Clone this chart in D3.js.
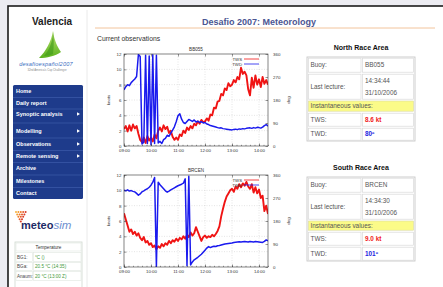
<!DOCTYPE html>
<html><head><meta charset="utf-8">
<script src="https://cdn.jsdelivr.net/npm/d3@7"></script>
<style>html,body{margin:0;padding:0;background:#ececf2;overflow:hidden}svg{display:block;font-family:"Liberation Sans",Arial,sans-serif}</style>
</head><body><svg id="c" width="443" height="287"></svg>
<script>
// ---------------- data ----------------
const sampleMinutes = [0,4,8,12,16,20,24,28,32,36,40,44,48,52,56,60,64,68,72,76,80,84,88,92,96,100,104,108,112,116,120,124,128,132,136,140,144,148,152,156,160,164,168,172,176,180,184,188,192,196,200,204,208,212,216,220,224,228,232,236,240,244,248,252,256,260,264,268,272,276,280,284,288,292,296,300,304,308,312,316,320];
const hourTickMinutes = [0,60,120,180,240,300];
const hourTickLabels = ["09:00","10:00","11:00","12:00","13:00","14:00"];
const knotTicks = [0,2,4,6,8,10,12];
const degTicks = [0,90,180,270,360];

const northTws = [2.2,2.6,1.9,2.7,2.0,2.8,2.3,2.6, 1.6,0.8,0.5,1.1,0.4,1.3,0.7, 1.1,0.6,1.5,1.0,2.0,2.4,1.9,2.7, 2.2,2.5,1.7,2.0,1.2,0.8,1.1, 0.8,1.5,1.3,2.0,1.7,2.4,2.1,2.6, 2.3,2.9,2.7,3.2,2.9,3.4,3.1, 3.2,3.6,3.3,4.1,4.0,5.0,4.9,5.8, 5.9,6.8,6.6,7.5,7.3,8.2,7.8, 8.0,8.6,8.3,9.0,8.7,10.2,9.4,9.7, 9.2,7.4,6.6,8.9,7.6,9.2,8.0, 8.7,7.7,9.0,8.1,8.6,8.0];
const northTwd = [220,232,240,236,248,255,262,272, 358,350,8,15,355,10,352,5,357,10,355,12, 18,10,25,30,42,38,50,62,75,95, 118,126,105,92,88,96,104,100,96,102,94,97,92,95,90, 92,86,84,80,78,76,74,72,70,71,68,67,66,65,64, 63,65,66,64,67,66,68,67,69,70,71,69,72,70,73, 72,70,74,80,84,78];
const southTws = [7.0,6.2,5.4,4.6,4.9,4.3,4.6,4.1, 4.4,3.8,3.5,3.9,3.2,3.4,2.9, 3.1,2.6,2.8,2.3,2.7,2.5,3.0,2.7, 3.1,2.9,3.4,3.1,3.5,3.3,3.7, 3.4,3.8,3.6,4.0,3.7,4.2,3.9,4.5, 4.1,4.4,5.2,4.6,4.0,3.4,3.9, 4.1,3.8,4.0,3.9,4.2,4.0,4.3,4.7, 5.3,6.6,7.6,8.5,9.2,9.6,10.0, 10.2,9.8,10.5,10.2,10.8,10.4,10.9,10.6, 11.1,10.5,10.2,10.8,9.7,10.4,9.6, 10.1,9.0,9.3,7.3,8.0,6.9];
const southTwd = [300,298,302,297,299,296,294,288, 281,286,294,298,303,306,312, 320,332,350,2,332, 322,314,306,298,293,297,302,306,310,314, 318,321,324,328,345,5,355,8, 20,28,33,38,44,50,58, 66,74,80,76,79,81,80,83, 84,86,88,90,91,92,93, 94,96,97,98,99,98,99,100, 99,98,100,99,98,100,99, 98,97,96,100,106,102];

const menuItems = ["Home","Daily report","Synoptic analysis","Modelling","Observations","Remote sensing","Archive","Milestones","Contact"];
const menuArrows = [false,false,true,true,true,true,false,false,false];
const tempLabels = ["BG1:","BGa:","Anaum:"];
const tempValues = ["°C ()","20.5 °C (14:35)","20 °C (13:00 Z)"];
const northInfo = {title:"North Race Area", buoy:"BB055", time:"14:34:44", date:"31/10/2006", tws:"8.6 kt", twd:"80º"};
const southInfo = {title:"South Race Area", buoy:"BRCEN", time:"14:34:30", date:"31/10/2006", tws:"9.0 kt", twd:"101º"};

// ---------------- page ----------------
const svg = d3.select("#c");
svg.append("rect").attr("width",443).attr("height",287).attr("fill","#ececf2");
svg.append("rect").attr("x",8).attr("y",6).attr("width",450).attr("height",300).attr("fill","#fff")
  .attr("stroke","#1b1b1b").attr("stroke-width",1.6);
svg.append("line").attr("x1",87).attr("x2",87).attr("y1",10).attr("y2",287).attr("stroke","#e4e4e4").attr("stroke-width",0.8);

svg.append("text").attr("x",32).attr("y",25).attr("font-size",10).attr("font-weight","bold").attr("fill","#222").text("Valencia");
svg.append("line").attr("x1",95).attr("x2",435).attr("y1",28).attr("y2",28).attr("stroke","#f2c49c").attr("stroke-width",1);
svg.append("text").attr("x",259).attr("y",24.5).attr("text-anchor","middle").attr("font-size",9).attr("font-weight","bold").attr("fill","#4b5592").text("Desafio 2007: Meteorology");
svg.append("text").attr("x",97).attr("y",40.5).attr("font-size",6.8).attr("fill","#333").text("Current observations");

// desafio logo
const dg = svg.append("defs").append("linearGradient").attr("id","sail").attr("x1",0).attr("y1",0).attr("x2",0).attr("y2",1);
dg.append("stop").attr("offset",0).attr("stop-color","#b8e070");
dg.append("stop").attr("offset",1).attr("stop-color","#5cb21e");
svg.append("path").attr("d","M53,31 C54,40 58,48 61,52 C55,56 47,58 39,58 C46,51 51,42 53,31 Z").attr("fill","url(#sail)");
svg.append("path").attr("d","M53,31 C53,40 50,49 44,56 C48,56 51,55 53,54 C54,46 54,38 53,31 Z").attr("fill","#3e9a18").attr("opacity",0.6);
svg.append("text").attr("x",46).attr("y",66).attr("text-anchor","middle").attr("font-size",5.6).attr("font-style","italic").attr("fill","#3d6fbf").attr("letter-spacing",0.2).text("desafioespañol2007");
svg.append("text").attr("x",47).attr("y",71).attr("text-anchor","middle").attr("font-size",2.8).attr("fill","#8a8a8a").text("32nd America's Cup Challenger");

// nav menu
const navTop = 85, navBot = 199;
svg.append("rect").attr("x",13).attr("y",navTop).attr("width",70).attr("height",navBot-navTop).attr("rx",1.5).attr("fill","#1e3b8b");
const menuY = [91,103,114,131,144,156,168,181,193];
menuItems.forEach((m,i)=>{
  if(i>0){
    const ly = (menuY[i]+menuY[i-1])/2+0.5;
    svg.append("line").attr("x1",13).attr("x2",83).attr("y1",ly).attr("y2",ly).attr("stroke","#4262b0").attr("stroke-width",0.6);
  }
  svg.append("text").attr("x",16).attr("y",menuY[i]+2).attr("font-size",5.5).attr("font-weight","bold").attr("fill","#fff").text(m);
  if(menuArrows[i]) svg.append("path").attr("d",`M77,${menuY[i]-1.8} L80,${menuY[i]} L77,${menuY[i]+1.8} Z`).attr("fill","#fff");
});

// meteosim logo
const dotCols = ["#f7b23a","#f39a2e","#ee7a2a","#e55a28","#d93a26"];
for(let r=0;r<5;r++){ for(let c=0;c<5-r;c++){
  svg.append("circle").attr("cx",16+c*2.4+r*1.2).attr("cy",212+r*2.4).attr("r",1).attr("fill",dotCols[(r+c)%5]);
}}
svg.append("text").attr("x",21).attr("y",229).attr("font-size",11).attr("font-weight","bold").attr("fill","#1d2a66").text("meteo")
  .append("tspan").attr("font-weight","normal").attr("font-style","italic").attr("fill","#6e8fcf").attr("font-size",11.5).text("sim");

// temperature table
const tL=15,tM=33,tR=82, tRows=[242,252,262,271,281,291];
svg.append("rect").attr("x",tL).attr("y",tRows[0]).attr("width",tR-tL).attr("height",60).attr("fill","#fff").attr("stroke","#cfd8cf").attr("stroke-width",0.8);
svg.append("rect").attr("x",tL+1).attr("y",tRows[0]+1).attr("width",tR-tL-2).attr("height",tRows[1]-tRows[0]-2).attr("fill","none").attr("stroke","#dfe6df").attr("stroke-width",0.6);
svg.append("text").attr("x",(tL+tR)/2).attr("y",tRows[0]+6.5).attr("text-anchor","middle").attr("font-size",4.6).attr("fill","#333").text("Temperature");
tempLabels.forEach((l,i)=>{
  const y0=tRows[i+1], y1=tRows[i+2];
  svg.append("rect").attr("x",tL+1).attr("y",y0+0.5).attr("width",tM-tL-1.5).attr("height",y1-y0-1).attr("fill","none").attr("stroke","#dfe6df").attr("stroke-width",0.6);
  svg.append("rect").attr("x",tM+0.5).attr("y",y0+0.5).attr("width",tR-tM-1.5).attr("height",y1-y0-1).attr("fill","none").attr("stroke","#dfe6df").attr("stroke-width",0.6);
  svg.append("text").attr("x",tL+2).attr("y",(y0+y1)/2+1.7).attr("font-size",4.6).attr("fill","#444").text(l);
  svg.append("text").attr("x",tM+2).attr("y",(y0+y1)/2+1.7).attr("font-size",4.6).attr("fill","#3f9a3a").text(tempValues[i]);
});

// info tables
function drawTable(info, titleY, rows){
  const L=307, M=362, R=415;
  svg.append("text").attr("x",361).attr("y",titleY).attr("text-anchor","middle").attr("font-size",7).attr("font-weight","bold").attr("fill","#111").text(info.title);
  svg.append("rect").attr("x",L).attr("y",rows[0]).attr("width",R-L).attr("height",rows[5]-rows[0]).attr("fill","#fff").attr("stroke","#c8c8c8").attr("stroke-width",0.9);
  [0,1,3,4].forEach(r=>{
    svg.append("rect").attr("x",L+1.5).attr("y",rows[r]+1.2).attr("width",M-L-2.5).attr("height",rows[r+1]-rows[r]-2).attr("fill","none").attr("stroke","#d9d9d9").attr("stroke-width",0.7);
    svg.append("rect").attr("x",M+0.5).attr("y",rows[r]+1.2).attr("width",R-M-2).attr("height",rows[r+1]-rows[r]-2).attr("fill","none").attr("stroke","#d9d9d9").attr("stroke-width",0.7);
  });
  svg.append("rect").attr("x",L+1.5).attr("y",rows[2]+1).attr("width",R-L-3).attr("height",rows[3]-rows[2]-1.8).attr("fill","#fbfb88").attr("stroke","#d9d9a0").attr("stroke-width",0.6);
  const fs=6.4, c="#555";
  const mid=(a,b)=>(rows[a]+rows[b])/2+2.2;
  svg.append("text").attr("x",L+3.5).attr("y",mid(0,1)).attr("font-size",fs).attr("fill",c).text("Buoy:");
  svg.append("text").attr("x",M+3).attr("y",mid(0,1)).attr("font-size",fs).attr("fill",c).text(info.buoy);
  svg.append("text").attr("x",L+3.5).attr("y",mid(1,2)).attr("font-size",fs).attr("fill",c).text("Last lecture:");
  svg.append("text").attr("x",M+3).attr("y",mid(1,2)-5.8).attr("font-size",fs).attr("fill",c).text(info.time);
  svg.append("text").attr("x",M+3).attr("y",mid(1,2)+5.8).attr("font-size",fs).attr("fill",c).text(info.date);
  svg.append("text").attr("x",L+3.5).attr("y",mid(2,3)).attr("font-size",fs).attr("fill","#555").text("Instantaneous values:");
  svg.append("text").attr("x",L+3.5).attr("y",mid(3,4)).attr("font-size",fs).attr("fill",c).text("TWS:");
  svg.append("text").attr("x",M+3).attr("y",mid(3,4)).attr("font-size",fs).attr("font-weight","bold").attr("fill","#f01818").text(info.tws);
  svg.append("text").attr("x",L+3.5).attr("y",mid(4,5)).attr("font-size",fs).attr("fill",c).text("TWD:");
  svg.append("text").attr("x",M+3).attr("y",mid(4,5)).attr("font-size",fs).attr("font-weight","bold").attr("fill","#2424e0").text(info.twd);
}
drawTable(northInfo, 49.5, [57,73,100,112,127,141]);
drawTable(southInfo, 169.5, [177,193,220,231,246,261]);

// ---------------- charts ----------------
let clipId = 0;
function drawChart(box, title, tws, twd){
  const x = d3.scaleLinear().domain([0,320]).range([box.x0, box.x1]);
  const yL = d3.scaleLinear().domain([0,12]).range([box.y1, box.y0]);
  const yR = d3.scaleLinear().domain([0,360]).range([box.y1, box.y0]);
  const g = svg.append("g");
  const id = "clip"+(clipId++);
  svg.select("defs").append("clipPath").attr("id",id).append("rect")
    .attr("x",box.x0).attr("y",box.y0).attr("width",box.x1-box.x0).attr("height",box.y1-box.y0);
  // grid
  g.append("g").selectAll("line").data(hourTickMinutes.slice(1)).join("line")
    .attr("x1",d=>x(d)).attr("x2",d=>x(d)).attr("y1",box.y0).attr("y2",box.y1)
    .attr("stroke","#c8c8c8").attr("stroke-width",0.5).attr("stroke-dasharray","1,1.5");
  g.append("g").selectAll("line").data(knotTicks.slice(1,-1)).join("line")
    .attr("x1",box.x0).attr("x2",box.x1).attr("y1",d=>yL(d)).attr("y2",d=>yL(d))
    .attr("stroke","#c8c8c8").attr("stroke-width",0.5).attr("stroke-dasharray","1,1.5");
  // lines
  const pts = (arr, sc) => arr.map((v,i)=>[x(sampleMinutes[i]), sc(v)]);
  const line = d3.line();
  const lg = g.append("g").attr("clip-path",`url(#${id})`);
  lg.append("path").attr("d", line(pts(tws,yL))).attr("fill","none").attr("stroke","#f01414").attr("stroke-width",1.9).attr("stroke-linejoin","round");
  lg.append("path").attr("d", line(pts(twd,yR))).attr("fill","none").attr("stroke","#1a1aee").attr("stroke-width",1.5).attr("stroke-linejoin","round");
  // legend
  const lx = box.x1-26, ly = box.y0+5;
  g.append("text").attr("x",lx).attr("y",ly+1.5).attr("text-anchor","end").attr("font-size",4.3).attr("fill","#333").text("TWS");
  g.append("line").attr("x1",lx+2).attr("x2",lx+17).attr("y1",ly).attr("y2",ly).attr("stroke","#f01414").attr("stroke-width",0.8);
  g.append("text").attr("x",lx).attr("y",ly+6.5).attr("text-anchor","end").attr("font-size",4.3).attr("fill","#333").text("TWD");
  g.append("line").attr("x1",lx+2).attr("x2",lx+17).attr("y1",ly+5).attr("y2",ly+5).attr("stroke","#1a1aee").attr("stroke-width",0.8);
  // axes
  const styleAxis = sel => { sel.select(".domain").remove(); sel.selectAll("line").attr("stroke","#333").attr("stroke-width",0.5); sel.selectAll("text").attr("font-size",4.4).attr("fill","#333").attr("font-family","Liberation Sans, Arial, sans-serif"); };
  g.append("g").attr("transform",`translate(0,${box.y1})`)
    .call(d3.axisBottom(x).tickValues(hourTickMinutes).tickFormat((d,i)=>hourTickLabels[i]).tickSizeInner(-2.5).tickSizeOuter(0).tickPadding(3)).call(styleAxis);
  g.append("g").attr("transform",`translate(0,${box.y1})`)
    .call(d3.axisBottom(x).tickValues(d3.range(0,321,10)).tickFormat("").tickSizeInner(-1.2).tickSizeOuter(0)).call(styleAxis);
  g.append("g").attr("transform",`translate(0,${box.y0})`)
    .call(d3.axisTop(x).tickValues(hourTickMinutes).tickFormat("").tickSizeInner(-2.5).tickSizeOuter(0)).call(styleAxis);
  g.append("g").attr("transform",`translate(${box.x0},0)`)
    .call(d3.axisLeft(yL).tickValues(knotTicks).tickSizeInner(-2.5).tickSizeOuter(0).tickPadding(2.5)).call(styleAxis);
  g.append("g").attr("transform",`translate(${box.x1},0)`)
    .call(d3.axisRight(yR).tickValues(degTicks).tickSizeInner(-2.5).tickSizeOuter(0).tickPadding(5)).call(styleAxis);
  g.append("rect").attr("x",box.x0).attr("y",box.y0).attr("width",box.x1-box.x0).attr("height",box.y1-box.y0)
    .attr("fill","none").attr("stroke","#333").attr("stroke-width",0.6);
  // titles
  g.append("text").attr("x",(box.x0+box.x1)/2).attr("y",box.y0-3).attr("text-anchor","middle").attr("font-size",4.6).attr("fill","#333").text(title);
  g.append("text").attr("transform",`translate(${box.x0-14},${(box.y0+box.y1)/2}) rotate(-90)`).attr("text-anchor","middle").attr("font-size",4.4).attr("fill","#333").text("knots");
  g.append("text").attr("transform",`translate(${box.x1+22},${(box.y0+box.y1)/2}) rotate(-90)`).attr("text-anchor","middle").attr("font-size",4.4).attr("fill","#333").text("deg");
}
drawChart({x0:124,x1:268,y0:54,y1:146}, "BB055", northTws, northTwd);
drawChart({x0:124,x1:268,y0:175,y1:267}, "BRCEN", southTws, southTwd);
</script></body></html>
